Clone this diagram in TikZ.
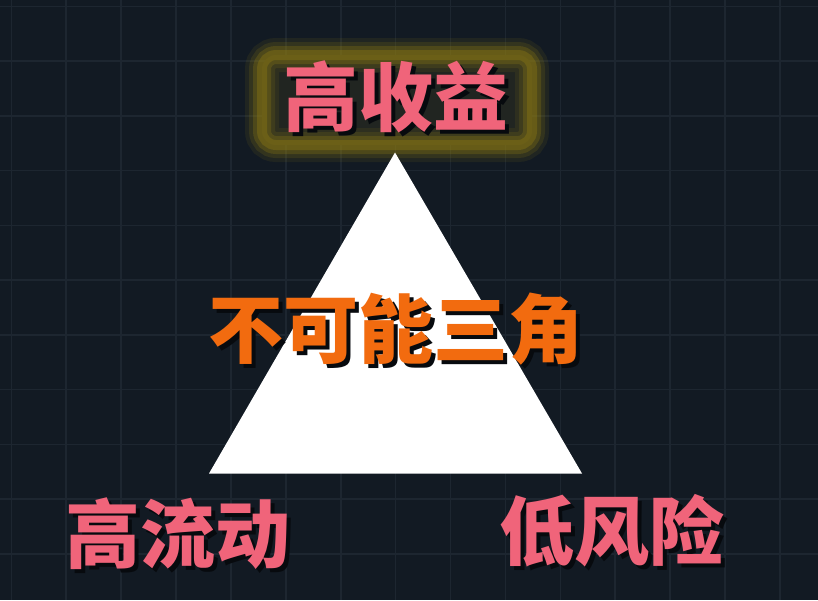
\documentclass[tikz,border=0pt]{standalone}
\usepackage{fontspec}
\newfontfamily\cjk{Noto Sans CJK SC}
\usetikzlibrary{positioning}
\definecolor{boardbg}{HTML}{121A23}
\definecolor{gridline}{HTML}{1D2630}
\definecolor{goalpink}{HTML}{F0647A}
\definecolor{titleorange}{HTML}{F26B0F}
\definecolor{glowgold}{HTML}{8C7914}
\definecolor{shadowdark}{HTML}{070A0E}

\begin{document}
\begin{tikzpicture}[x=1pt,y=-1pt,
    goal/.style={text=goalpink, inner sep=0pt, font=\cjk\bfseries\fontsize{75}{80}\selectfont},
    title/.style={text=titleorange, inner sep=0pt, font=\cjk\bfseries\fontsize{75}{80}\selectfont},
    glow/.style={draw=glowgold, rounded corners=14pt}]
    % text with a dark drop shadow below right
    \def\shadowlabel#1#2#3#4{%
      \node[#3] (#1) at (#2) {\rlap{\hspace{4pt}\raisebox{-4pt}{\color{shadowdark}#4}}#4};}

    \useasboundingbox (0,0) rectangle (818,600);
    \fill[boardbg] (0,0) rectangle (818,600);

    % grid
    \foreach \i in {0,...,14}
      \draw[gridline, line width=1.6pt] (11.3+54.9*\i,0) -- (11.3+54.9*\i,600);
    \foreach \j in {0,...,10}
      \draw[gridline, line width=1.6pt] (0,6.3+54.75*\j) -- (818,6.3+54.75*\j);

    % glowing frame round the top corner
    \fill[glowgold!12!boardbg, rounded corners=14pt] (262,55) rectangle (532,145);
    \draw[glow, line width=34pt, opacity=0.12] (262,55) rectangle (532,145);
    \draw[glow, line width=26pt, opacity=0.18] (262,55) rectangle (532,145);
    \draw[glow, line width=18pt, opacity=0.3] (262,55) rectangle (532,145);
    \draw[glow, line width=10pt, opacity=0.4] (262,55) rectangle (532,145);

    % triangle
    \coordinate (apex) at (395,152.5);
    \coordinate (baseleft) at (209,473.5);
    \coordinate (baseright) at (582,473.5);
    \fill[white] (apex) -- (baseleft) -- (baseright) -- cycle;

    \shadowlabel{yield}{396,99}{goal}{高收益}
    \shadowlabel{impossible}{396,331}{title}{不可能三角}
    \shadowlabel{liquid}{178,536}{goal}{高流动}
    \shadowlabel{risk}{612,533}{goal}{低风险}
\end{tikzpicture}
\end{document}
